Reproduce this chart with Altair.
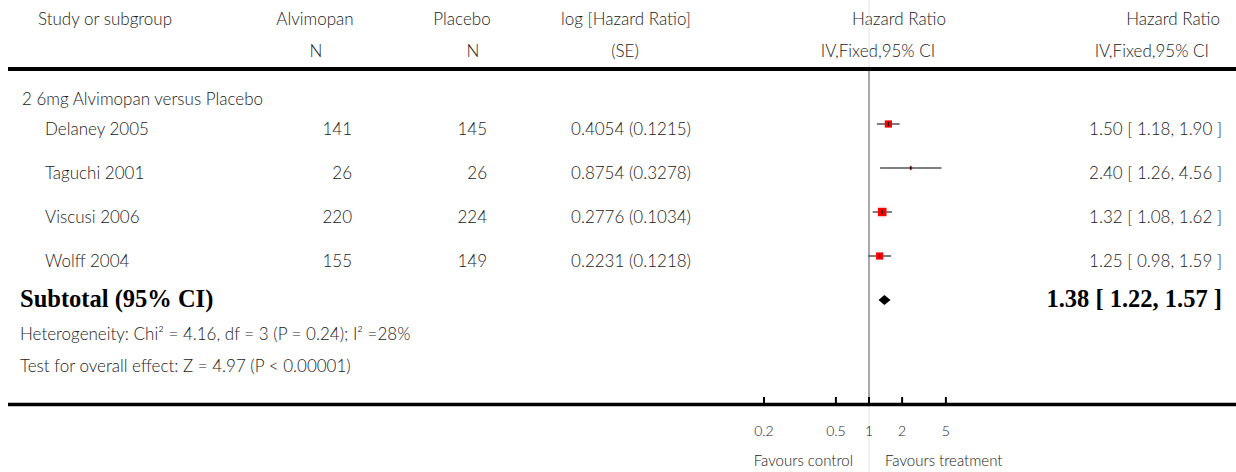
import altair as alt
import pandas as pd

# ---- data ----
studies = ["Delaney 2005", "Taguchi 2001", "Viscusi 2006", "Wolff 2004"]
n_alvimopan = [141, 26, 220, 155]
n_placebo = [145, 26, 224, 149]
log_hr = ["0.4054", "0.8754", "0.2776", "0.2231"]
log_se = ["0.1215", "0.3278", "0.1034", "0.1218"]
hr = [1.50, 2.40, 1.32, 1.25]
ci_lo = [1.18, 1.26, 1.08, 0.98]
ci_hi = [1.90, 4.56, 1.62, 1.59]
se_values = [0.1215, 0.3278, 0.1034, 0.1218]

sub_hr, sub_lo, sub_hi = 1.38, 1.22, 1.57

tick_values = [0.111, 0.5, 1, 2, 5]
tick_labels = ["0.2", "0.5", "1", "2", "5"]

FONT = "Lato"
FW = 300
SERIF = "Liberation Serif"
TXT = "#1a1a1a"
FS = 17

df = pd.DataFrame({
    "study": studies,
    "n1": [str(v) for v in n_alvimopan],
    "n2": [str(v) for v in n_placebo],
    "lhr": [f"{a} ({b})" for a, b in zip(log_hr, log_se)],
    "hr": hr, "lo": ci_lo, "hi": ci_hi,
    "w": [1 / s ** 2 for s in se_values],
    "row": list(range(len(studies))),
})
df["label"] = [f"{h:.2f} [ {l:.2f}, {u:.2f} ]" for h, l, u in zip(hr, ci_lo, ci_hi)]
df["r0"] = df["row"] - 0.05
df["r1"] = df["row"] + 0.05

sub_row = len(studies)
diamond = pd.DataFrame({
    "x": [sub_lo, sub_hr, sub_hi],
    "y": [sub_row, sub_row - 0.114, sub_row],
    "y2": [sub_row, sub_row + 0.114, sub_row],
})
ticks = pd.DataFrame({"v": tick_values, "t": tick_labels})

xs = alt.Scale(type="log", domain=[0.1, 10], range=[759, 979], nice=False)
ys = alt.Scale(domain=[0, 4], range=[124, 300], nice=False, zero=False)

base = alt.Chart(df)

def hdr(text, x, y, align="center", size=FS):
    return alt.Chart(pd.DataFrame({"t": [text]})).mark_text(
        font=FONT, fontSize=size, fontWeight=FW, color=TXT, align=align, baseline="middle"
    ).encode(x=alt.value(x), y=alt.value(y), text="t:N")

layers = []
# header
layers += [
    hdr("Study or subgroup", 38, 20, "left"),
    hdr("Alvimopan", 315, 20), hdr("N", 316, 52),
    hdr("Placebo", 462, 20), hdr("N", 473, 52),
    hdr("log [Hazard Ratio]", 626, 20), hdr("(SE)", 625, 52),
    hdr("Hazard Ratio", 899, 20), hdr("IV,Fixed,95% CI", 878, 52),
    hdr("Hazard Ratio", 1220, 20, "right"), hdr("IV,Fixed,95% CI", 1209, 52, "right"),
    hdr("2 6mg Alvimopan versus Placebo", 22, 100, "left"),
    hdr("Heterogeneity: Chi² = 4.16, df = 3 (P = 0.24); I² =28%", 20, 335, "left"),
    hdr("Test for overall effect: Z = 4.97 (P < 0.00001)", 20, 367, "left"),
    hdr("Favours control", 853, 461, "right", 15),
    hdr("Favours treatment", 885, 461, "left", 15),
]

# faint full-height line at HR = 1 and darker segment
layers.append(alt.Chart(pd.DataFrame({"v": [1]})).mark_rule(color="#e4e4e4", strokeWidth=1).encode(
    x=alt.X("v:Q", scale=xs, axis=None), y=alt.value(0), y2=alt.value(472)))
layers.append(alt.Chart(pd.DataFrame({"v": [1]})).mark_rule(color="#8a8a8a", strokeWidth=1.4).encode(
    x=alt.X("v:Q", scale=xs, axis=None), y=alt.value(71), y2=alt.value(403)))

# thick horizontal rules
layers.append(alt.Chart(pd.DataFrame({"a": [0]})).mark_rule(color="black", strokeWidth=4).encode(
    x=alt.value(8), x2=alt.value(1236), y=alt.value(69)))
layers.append(alt.Chart(pd.DataFrame({"a": [0]})).mark_rule(color="black", strokeWidth=3.5).encode(
    x=alt.value(8), x2=alt.value(1236), y=alt.value(404.5)))

# study text columns
def col(field, x, align):
    return base.mark_text(font=FONT, fontSize=FS, fontWeight=FW, color=TXT, align=align,
                          baseline="middle", dy=6).encode(
        x=alt.value(x), y=alt.Y("row:Q", scale=ys, axis=None), text=f"{field}:N")

layers += [col("study", 45, "left"), col("n1", 352, "right"), col("n2", 487, "right"),
           col("lhr", 691, "right"), col("label", 1222, "right")]

# CI lines, squares, centre ticks
layers.append(base.mark_rule(color="#555555", strokeWidth=1.5).encode(
    x=alt.X("lo:Q", scale=xs, axis=None), x2="hi:Q", y=alt.Y("row:Q", scale=ys, axis=None)))
layers.append(base.mark_square(color="#ff0000", opacity=1).encode(
    x=alt.X("hr:Q", scale=xs, axis=None), y=alt.Y("row:Q", scale=ys, axis=None),
    size=alt.Size("w:Q", scale=alt.Scale(domain=[0, 100], range=[0, 77]), legend=None)))
layers.append(base.mark_rule(color="black", strokeWidth=1).encode(
    x=alt.X("hr:Q", scale=xs, axis=None), y=alt.Y("r0:Q", scale=ys, axis=None), y2="r1:Q"))

# subtotal diamond
layers.append(alt.Chart(diamond).mark_area(color="black").encode(
    x=alt.X("x:Q", scale=xs, axis=None), y=alt.Y("y:Q", scale=ys, axis=None), y2="y2:Q"))

# subtotal texts
sub = pd.DataFrame({"t": ["Subtotal (95% CI)"], "v": [f"{sub_hr:.2f} [ {sub_lo:.2f}, {sub_hi:.2f} ]"]})
layers.append(alt.Chart(sub).mark_text(font=SERIF, fontSize=24.5, fontWeight="bold", color="black",
                                        align="left", baseline="middle").encode(
    x=alt.value(20), y=alt.value(300), text="t:N"))
layers.append(alt.Chart(sub).mark_text(font=SERIF, fontSize=24.5, fontWeight="bold", color="black",
                                        align="right", baseline="middle").encode(
    x=alt.value(1222), y=alt.value(300), text="v:N"))

# axis ticks and labels
layers.append(alt.Chart(ticks).mark_rule(color="black", strokeWidth=2).encode(
    x=alt.X("v:Q", scale=xs, axis=None), y=alt.value(397), y2=alt.value(404)))
layers.append(alt.Chart(ticks).mark_text(font=FONT, fontSize=14, fontWeight=FW, color=TXT,
                                          baseline="middle").encode(
    x=alt.X("v:Q", scale=xs, axis=None), y=alt.value(432), text="t:N"))

chart = alt.layer(*layers).properties(width=1236, height=472).configure(
    padding=0, autosize="none", background="white"
).configure_view(stroke=None).resolve_scale(size="independent")

chart.save("out.html", embed_options={"renderer": "svg", "actions": False})
